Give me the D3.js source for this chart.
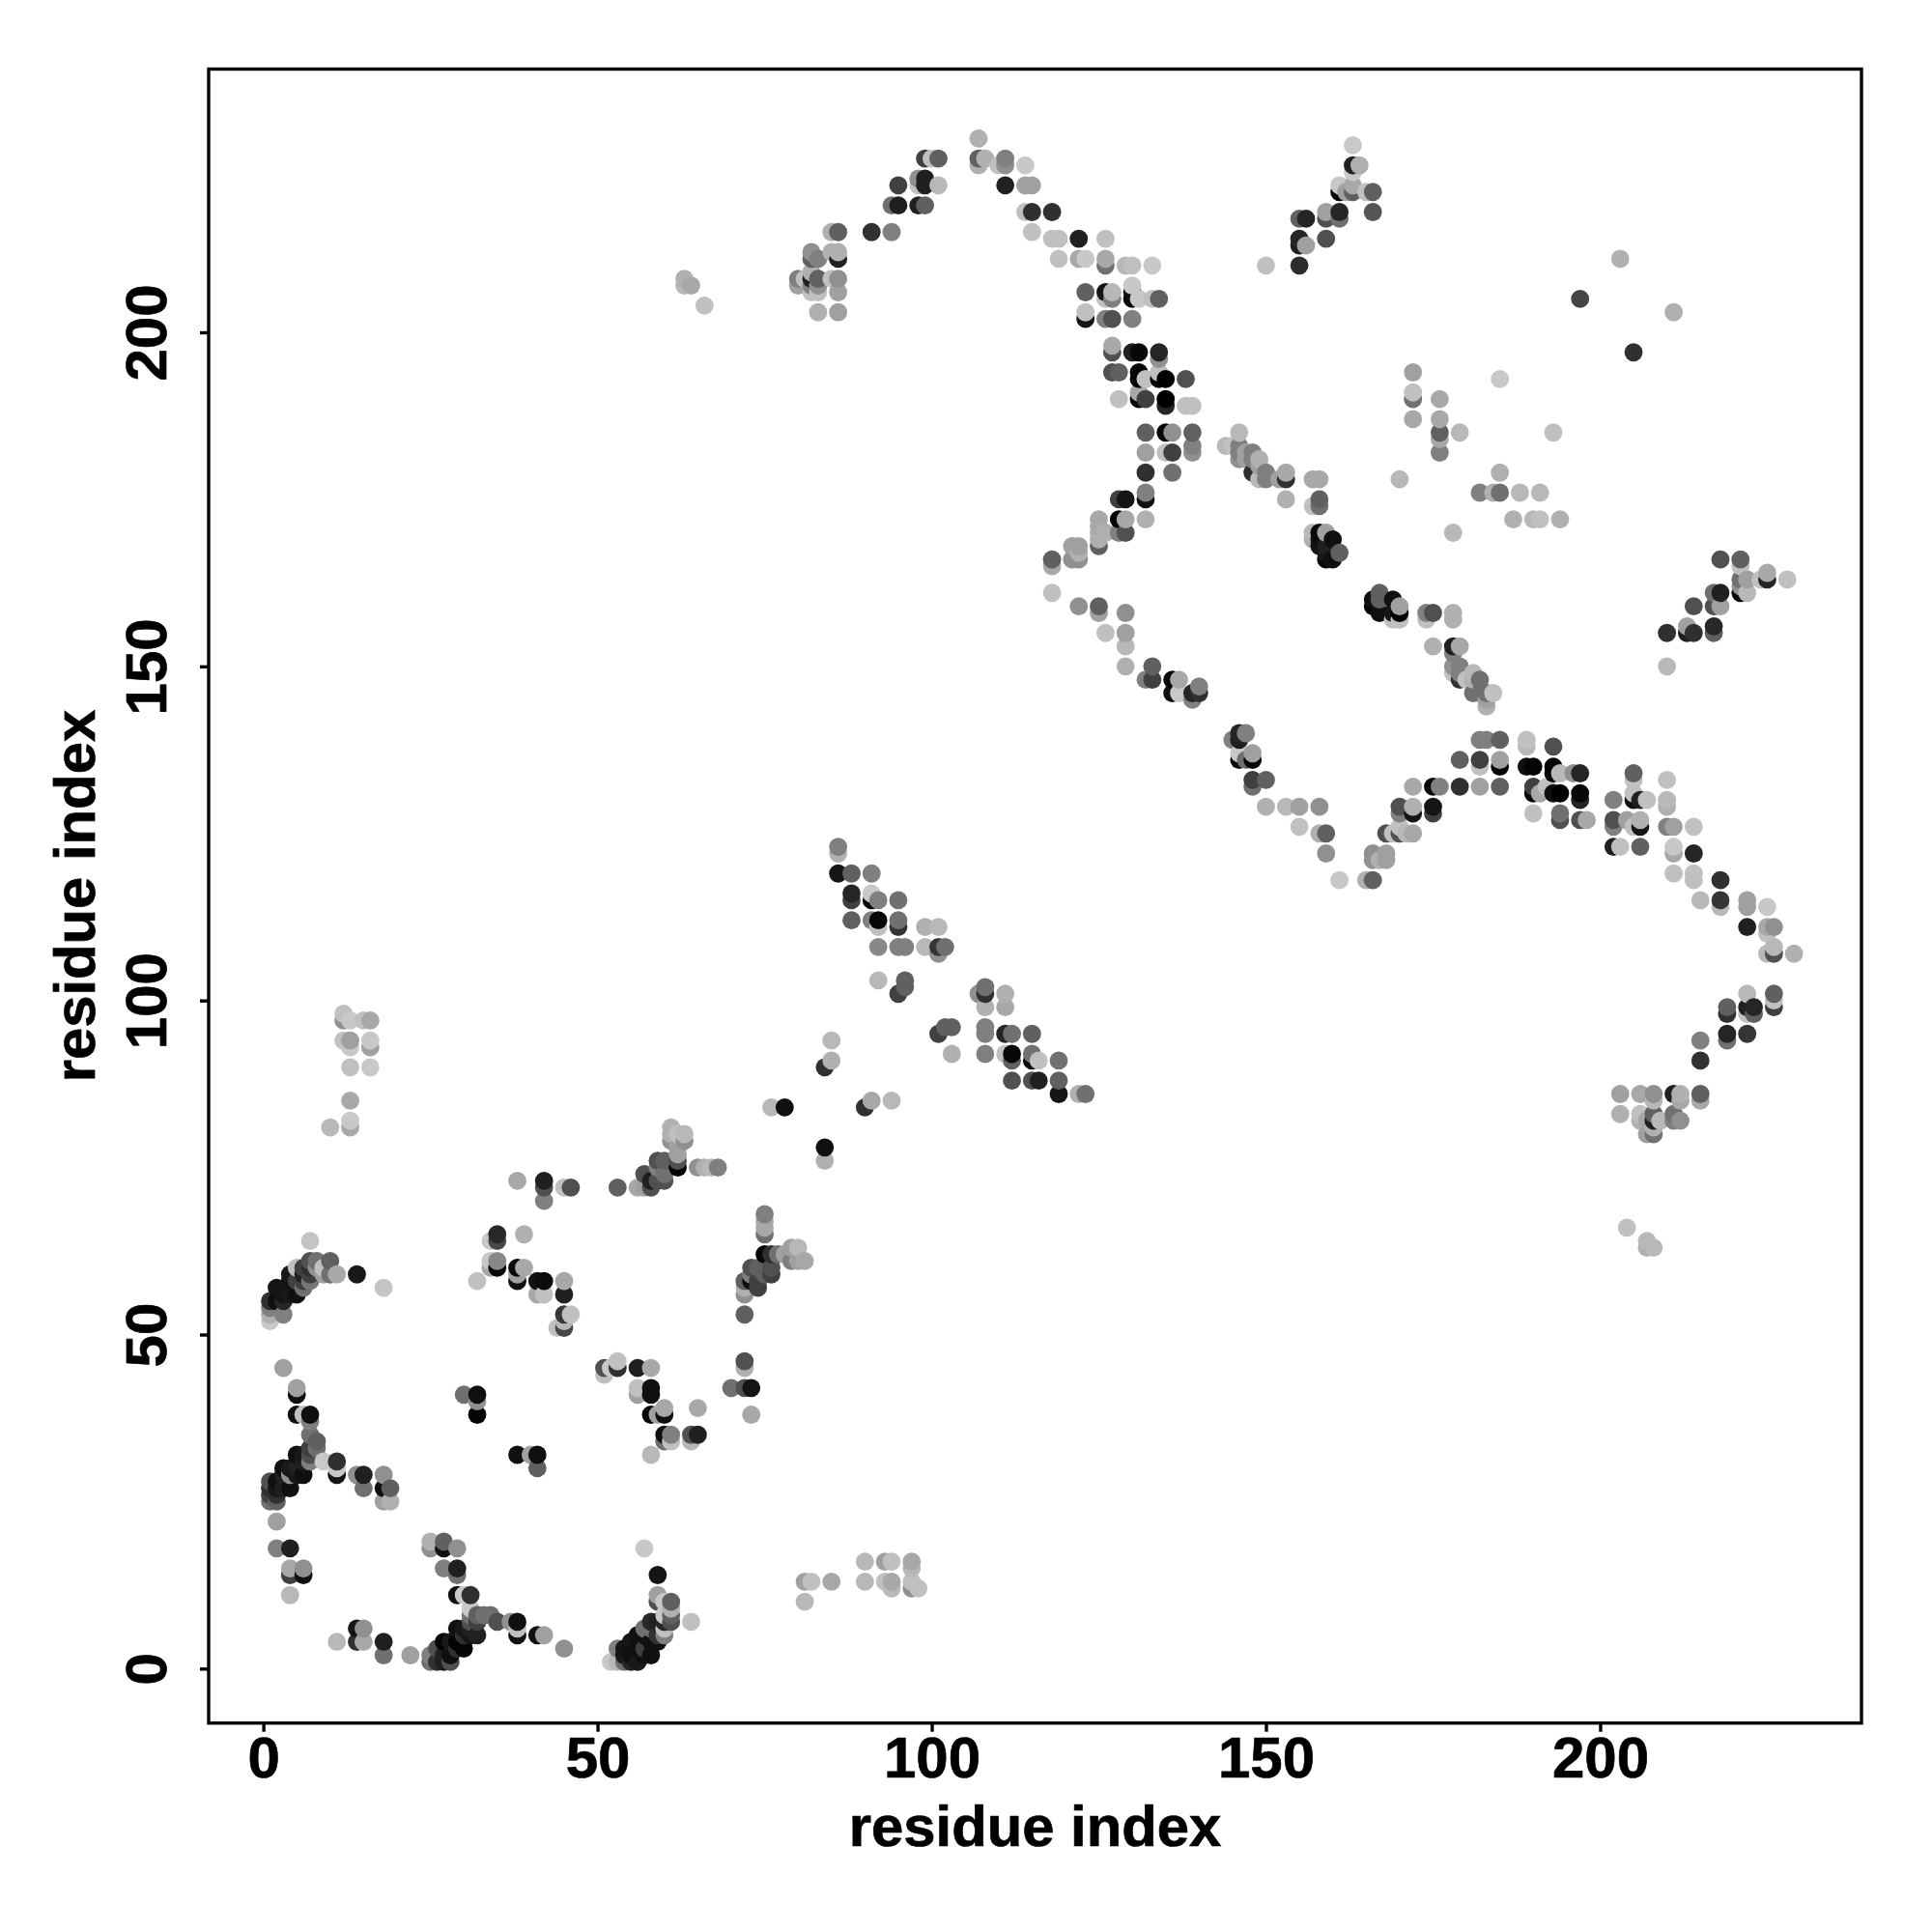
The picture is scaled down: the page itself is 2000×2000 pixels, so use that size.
<!DOCTYPE html>
<html>
<head>
<meta charset="utf-8">
<script src="https://cdn.jsdelivr.net/npm/d3@7"></script>
<style>html,body{margin:0;padding:0;background:#fff}svg{display:block}</style>
</head>
<body>
<div id="chart"></div>
<script>
// rows: [residue x, residue y, grey level]
const contactsN1 = [[1,52,0xc8],[1,53,0xb0],[1,54,0x80],[1,55,0x30],[2,55,0x10],[2,57,0x15],[3,53,0x80],[3,55,0x28],[3,56,0x15],[4,56,0x18],[4,58,0x15],[5,56,0x10],[5,58,0x40],[4,59,0x18],[5,60,0xc0],[6,57,0x70],[6,58,0x40],[6,59,0x20],[6,60,0x40],[7,58,0x78],[7,59,0x40],[7,60,0x30],[7,61,0x50],[7,64,0xc4],[8,60,0x90],[8,61,0x70],[9,59,0xa0],[9,60,0xc0],[10,59,0x70],[10,61,0x60],[11,59,0xa8],[14,59,0x18],[18,57,0xc4]];
const contactsN2 = [[34,64,0xc8],[35,64,0x48],[35,65,0x28],[39,65,0xb0],[34,60,0xa8],[34,61,0xc8],[35,60,0x08],[35,61,0x88],[32,58,0xc0],[38,60,0x08],[39,60,0xa8],[38,59,0xa0],[38,58,0x10],[41,58,0x12],[42,58,0x0c],[41,56,0xa8],[42,56,0xc0],[45,58,0xa8],[45,56,0x20],[45,53,0x38],[46,53,0xc0],[44,51,0xc0],[45,52,0xb8],[45,51,0x48]];
const contactsN3 = [[3,45,0xa0],[5,42,0xa0],[5,41,0x10],[5,38,0x10],[6,38,0xc0],[7,38,0x10],[7,37,0x80],[7,35,0x70],[8,34,0x60],[8,33,0x70],[7,33,0x40],[7,32,0x50],[7,31,0x80],[1,28,0x50],[1,27,0x30],[1,26,0x40],[1,25,0x70],[2,25,0x60],[2,26,0x30],[2,28,0x10],[2,27,0x18],[3,30,0x10],[3,29,0x20],[3,27,0x20],[4,27,0x10],[4,29,0x90],[4,30,0x18],[5,32,0x10],[5,30,0x20],[5,29,0x18],[6,31,0x20],[6,29,0x10],[6,32,0x18],[9,31,0xc8],[11,31,0x30],[11,30,0xc8],[11,29,0x15],[14,29,0x90],[15,29,0x20],[15,27,0x70],[18,29,0x90],[18,27,0x10],[19,27,0x60],[18,25,0xa0],[19,25,0xb0],[2,22,0xa0],[2,18,0x80],[4,18,0x20],[4,15,0xa8],[4,14,0x40],[6,15,0x90],[6,14,0x10],[4,11,0xb8]];
const contactsN4 = [[11,4,0xb8],[14,6,0x15],[15,6,0x90],[14,4,0x30],[15,4,0xa8],[18,4,0x20],[18,2,0x70],[22,2,0xa0],[25,2,0x80],[25,1,0x70],[26,1,0x30],[27,1,0x20],[28,1,0x50],[27,4,0x05],[26,3,0x50],[27,2,0x20],[28,2,0x10],[28,4,0x18],[29,6,0x10],[30,3,0x05],[29,4,0x05],[29,3,0x30],[30,5,0x30],[31,5,0x15],[32,5,0x20],[30,6,0x18],[31,6,0x20],[31,7,0x50],[32,7,0x40],[31,9,0xc8],[29,11,0x10],[30,11,0xc8],[31,11,0x30],[25,19,0xb0],[25,18,0x90],[27,19,0x60],[27,18,0x10],[29,18,0x90],[27,15,0x80],[29,15,0x20],[29,14,0x70],[31,8,0x70],[32,8,0x60],[33,8,0x70],[34,8,0x70],[35,7,0x50],[37,7,0x90],[38,7,0x10],[38,6,0xc0],[38,5,0x10],[41,5,0x10],[42,5,0xa0],[45,3,0x90]];
const contactsN5 = [[52,1,0xc8],[53,1,0xb8],[53,3,0x80],[54,3,0x15],[54,1,0x70],[54,2,0x18],[55,1,0x25],[55,2,0x10],[55,4,0x15],[56,1,0x18],[56,3,0x10],[56,5,0x10],[57,2,0x10],[57,3,0x40],[57,5,0x10],[57,6,0x70],[58,2,0x10],[58,4,0x10],[58,6,0x70],[58,7,0x28],[59,4,0x10],[59,5,0x30],[59,7,0x20],[60,5,0x80],[60,6,0xc0],[60,8,0xc8],[60,7,0x28],[60,10,0xc8],[61,7,0x50],[61,8,0x60],[61,9,0xb0],[61,10,0x60],[59,11,0xa0],[59,10,0x50],[59,14,0x15],[57,18,0xc8],[64,7,0xc0]];
const contactsN6 = [[30,41,0x70],[32,41,0x10],[32,40,0x90],[32,38,0x05],[38,32,0x10],[40,32,0xa0],[41,32,0x10],[41,30,0x60],[51,45,0x50],[51,44,0xc0],[52,45,0xc8],[53,46,0xc0],[53,45,0x30],[56,45,0x20],[58,45,0xa8],[56,42,0xc0],[56,41,0xa0],[58,42,0x10],[58,41,0x10],[58,38,0x05],[59,38,0xa0],[60,39,0xa8],[60,38,0x10],[60,35,0x10],[61,35,0x80],[61,34,0xc0],[60,34,0x70],[58,32,0xb8],[64,35,0x50],[64,34,0xb8],[65,35,0x20],[65,39,0xa8],[70,42,0x70],[72,42,0x50],[73,42,0x15],[72,46,0x50],[72,45,0xb0],[73,38,0xa8]];
const contactsM1 = [[12,98,0xc0],[12,97,0x90],[13,97,0xc8],[15,97,0xc0],[16,97,0xa8],[12,94,0xc0],[13,94,0xa0],[13,93,0xc8],[16,94,0xc8],[16,93,0xa0],[13,90,0xc0],[16,90,0xc8],[13,85,0xa8],[10,81,0xb8],[13,82,0xc8],[13,81,0xa8]];
const contactsM2 = [[38,73,0xa8],[42,73,0x20],[42,72,0x50],[42,70,0x80],[45,72,0xc0],[46,72,0x50],[53,72,0x60],[56,72,0xa8],[57,72,0xa0],[58,72,0x50],[57,74,0x50],[58,73,0x20],[59,73,0x50],[59,76,0x50],[60,76,0x60],[60,73,0x50],[59,75,0x80],[60,74,0x70],[62,75,0x05],[62,76,0x50],[62,77,0xa0],[62,78,0xa0],[61,81,0xb0],[61,79,0x90],[62,80,0xc0],[63,80,0xb8],[63,79,0x90],[61,80,0xb0],[65,75,0x90],[66,75,0xb0],[67,75,0xb8],[68,75,0x80]];
const contactsM3 = [[76,84,0xb8],[78,84,0x10],[85,94,0xb8],[85,91,0xb0],[84,90,0x30],[90,84,0x30],[91,85,0xa8],[94,85,0xb8],[84,78,0x10],[84,76,0xb0]];
const contactsM4 = [[72,53,0x60],[72,56,0x90],[72,57,0xb0],[72,58,0x60],[73,58,0x10],[74,57,0x40],[74,58,0x40],[73,60,0x50],[74,60,0x60],[73,59,0x80],[75,59,0x60],[76,59,0x40],[76,60,0x50],[75,62,0x05],[76,62,0x30],[77,62,0x70],[78,62,0xa0],[79,63,0xa0],[80,63,0xb8],[79,61,0x80],[80,61,0xa0],[81,61,0xa8],[75,68,0x80],[75,67,0xa8],[75,66,0xa8],[75,65,0x70]];
const contactsM5 = [[86,123,0x80],[86,122,0xb0],[86,119,0x15],[88,119,0x60],[91,119,0x80],[88,116,0x25],[88,115,0x40],[91,116,0xc8],[91,115,0x05],[92,115,0x80],[95,115,0x70],[88,112,0x60],[91,112,0x80],[92,112,0x08],[92,111,0xc0],[95,112,0x70],[95,111,0x35],[99,111,0xb0],[101,111,0xb8],[92,108,0x88],[95,108,0x80],[96,108,0x80],[99,108,0xb8],[101,108,0x35],[102,108,0x70],[101,107,0x90],[92,103,0xb8],[96,103,0x60],[96,102,0x60],[95,101,0x40]];
const contactsM6 = [[107,101,0x90],[108,102,0x70],[108,101,0x30],[111,101,0xb0],[108,99,0xb0],[111,99,0xa8],[108,96,0x80],[108,95,0x80],[111,95,0x25],[112,95,0x70],[115,95,0x60],[101,95,0x40],[102,96,0x60],[103,96,0x60],[103,92,0xb0],[108,92,0x80],[111,92,0xc0],[112,92,0x08],[112,91,0x60],[115,92,0x70],[115,91,0x08],[116,91,0xc0],[119,91,0x70],[112,88,0x50],[115,88,0x50],[116,88,0x20],[119,88,0x60],[119,86,0x15],[122,86,0xb0],[123,86,0x70]];
const contactsBottom = [[81,13,0xa0],[82,13,0xc0],[85,13,0xa8],[81,10,0xb8],[90,16,0xb8],[93,16,0xa0],[94,16,0xc0],[97,16,0xa8],[97,15,0xb8],[90,13,0xb8],[93,13,0xc0],[94,13,0xa8],[94,12,0xb8],[97,13,0xc0],[97,12,0x90],[98,12,0xc0]];
const contactsT1 = [[63,208,0xb0],[63,207,0xb8],[64,207,0xa8],[66,204,0xc0],[107,229,0xb0],[99,226,0x40],[100,226,0xc0],[101,226,0x60],[107,226,0x60],[107,225,0xb0],[108,226,0xb0],[110,225,0xc0],[111,226,0x80],[111,225,0x90],[114,225,0xc8],[95,222,0x40],[98,223,0x90],[99,223,0x20],[98,222,0xc0],[99,222,0x20],[101,222,0xb8],[111,222,0x20],[114,222,0xa0],[115,222,0xa0],[94,219,0x70],[95,219,0x20],[98,219,0x20],[99,219,0x60],[114,218,0xc0],[115,218,0x30],[118,218,0x30],[115,215,0xc0],[118,214,0xc0],[119,214,0xc0],[122,214,0x20],[126,214,0xc0],[85,215,0xb0],[86,215,0x60],[91,215,0x30],[94,215,0x80]];
const contactsT2 = [[82,212,0x90],[82,211,0x60],[83,211,0x80],[85,212,0xb0],[86,212,0xb0],[86,211,0x20],[80,208,0x80],[80,207,0xa0],[81,208,0xc0],[82,209,0xb0],[82,208,0x20],[83,208,0x60],[85,208,0xc0],[86,208,0x90],[82,206,0xc0],[83,206,0xc0],[83,207,0x90],[82,207,0x80],[86,206,0xa0],[83,203,0xb0],[86,203,0xa0]];
const contactsT3 = [[119,211,0xc0],[122,211,0xa8],[123,211,0xc8],[126,211,0xa8],[126,210,0x70],[129,210,0xb8],[130,210,0xc0],[133,210,0xc8],[123,206,0x60],[126,206,0x15],[127,206,0xb8],[127,205,0x80],[126,205,0xc0],[130,207,0xc8],[130,206,0x10],[131,205,0xc8],[130,205,0x05],[133,205,0xc0],[134,205,0x60],[123,203,0xc0],[123,202,0x15],[126,202,0x80],[127,202,0x50],[130,202,0x80],[127,198,0xa8],[127,197,0x50],[130,197,0x20],[131,197,0x08],[134,197,0x25],[134,196,0x90],[127,194,0x50],[128,194,0x60],[131,194,0x05],[131,193,0x05],[132,193,0xc0],[134,194,0xc0],[134,193,0x05],[135,193,0x00],[138,193,0x50],[128,190,0xc0],[131,191,0xa8],[131,190,0x05],[132,190,0x40],[135,190,0x00],[135,189,0x25],[138,189,0xc0],[139,189,0xc0]];
const contactsT4 = [[132,185,0x60],[135,185,0x05],[136,185,0x90],[139,185,0x60],[139,183,0x80],[139,182,0x90],[132,182,0xa0],[135,182,0xc0],[136,182,0x40],[132,179,0x30],[136,179,0x70],[132,176,0x80],[132,175,0x10],[128,175,0x40],[129,175,0x15],[128,172,0x05],[129,172,0xa8],[132,172,0xb0],[129,170,0x50],[128,170,0x80],[125,172,0xa8],[125,171,0xa8],[125,170,0xb0],[125,169,0xb0],[125,168,0x60],[126,170,0xb0],[121,168,0xa0],[122,168,0xa0],[121,166,0x90],[122,166,0x90],[122,167,0xb0],[118,166,0x60],[118,165,0xa8],[118,161,0xc0]];
const contactsD1 = [[144,183,0xb8],[145,183,0xc0],[146,185,0xb8],[146,183,0x80],[146,182,0x80],[146,181,0x90],[147,182,0xa0],[148,182,0x80],[147,181,0xa0],[148,181,0x80],[148,179,0x30],[149,181,0xb0],[149,180,0xa0],[149,178,0xb8],[150,179,0x80],[150,178,0x80],[152,178,0xa0],[153,179,0xa8],[153,178,0x30],[157,178,0xa8],[158,178,0xa8],[153,175,0xb0],[157,174,0xc0],[158,175,0x60],[158,174,0x70],[157,170,0xb8],[157,169,0xb0],[158,170,0x08],[158,169,0x10],[159,170,0xa0],[160,169,0x10],[158,168,0x15],[159,168,0x20],[159,167,0x18],[159,166,0x08],[160,166,0x10],[161,167,0x60],[170,178,0xb8]];
const contactsD2 = [[172,194,0xa0],[172,191,0xc0],[172,190,0x70],[172,187,0xa8],[176,190,0xa8],[176,187,0xa8],[176,185,0x60],[176,184,0xa8],[176,182,0x80],[179,185,0xb8],[178,170,0xb8],[185,193,0xc8],[185,179,0xb0],[182,176,0x80],[184,176,0xb0],[185,176,0x70],[187,172,0xb0],[188,176,0xb8],[191,176,0xb8],[190,172,0xb8],[191,172,0xc0],[193,185,0xc0],[194,172,0xb0],[150,210,0xc0],[203,211,0xb0],[197,205,0x45],[205,197,0x30],[211,203,0xb0],[204,66,0xc0],[207,64,0xb8],[207,63,0xb0],[208,63,0xb8]];
const contactsD3 = [[122,159,0x90],[125,159,0x60],[125,158,0xa0],[129,158,0x90],[126,155,0xc0],[129,155,0xa0],[129,153,0xb8],[129,150,0xb0],[133,150,0x60],[132,148,0x80],[133,148,0x40],[136,148,0x08],[137,148,0xa8],[136,146,0x10],[137,146,0xc8],[139,145,0x80],[139,146,0x25],[140,146,0x30],[140,147,0x80],[166,159,0x08],[166,160,0x10],[167,161,0x60],[167,160,0x60],[167,158,0x10],[169,160,0x10],[169,158,0x15],[170,159,0xa0],[170,158,0x00],[169,157,0xc0],[170,157,0xc0],[174,158,0x80],[175,158,0x50],[174,157,0xc0],[178,158,0xb0],[178,157,0xb0],[175,153,0xb0],[178,153,0x20],[179,153,0xa8],[178,152,0x80],[178,150,0x90],[179,150,0x80],[178,149,0xc0],[179,149,0x80],[179,148,0x30],[181,149,0xb8],[180,148,0xc0],[182,148,0x70],[181,148,0xb0],[181,146,0x70],[182,146,0x70],[183,146,0x70],[183,144,0xb0],[183,145,0xa0],[184,146,0xc0]];
const contactsD4 = [[146,140,0x25],[145,139,0x80],[146,139,0x20],[147,140,0x80],[146,137,0xc8],[148,137,0xa0],[146,136,0x08],[147,136,0x70],[148,136,0x08],[148,133,0x40],[150,133,0x60],[148,132,0x70],[150,129,0xb0],[153,129,0xb8],[155,129,0xa0],[158,129,0x90],[155,126,0xc0],[158,125,0xb0],[159,125,0x60],[159,122,0x90],[161,118,0xc8],[165,118,0xb0],[166,118,0x60],[166,122,0x90],[166,121,0x90],[167,121,0xb0],[168,122,0xa0],[168,121,0xa0],[168,125,0x50],[169,125,0xc0],[170,125,0x50],[170,126,0xc0],[171,125,0xb8],[172,125,0xa8],[170,129,0x50],[170,128,0x80],[172,129,0xb0],[172,128,0x15],[175,129,0x15],[175,128,0x40],[172,132,0xa8],[175,132,0x08],[176,132,0x80],[179,132,0x30],[182,132,0xa0],[185,132,0x60],[179,136,0x60],[182,136,0x40],[182,135,0xc0],[185,135,0x05],[185,136,0xa0],[182,139,0x80],[183,139,0x80],[185,139,0x60]];
const contactsR1 = [[189,139,0xc0],[189,138,0xb8],[193,138,0x50],[189,135,0x10],[190,135,0x05],[193,135,0x00],[193,134,0x05],[194,134,0xb8],[196,134,0x90],[197,134,0x25],[190,132,0x40],[190,131,0x08],[191,131,0xa8],[192,132,0xc0],[193,131,0x10],[194,131,0x00],[197,131,0x08],[197,130,0x25],[190,128,0xc0],[194,128,0x70],[194,127,0x50],[197,127,0x50],[198,127,0xa8]];
const contactsR2 = [[202,130,0x80],[202,127,0x50],[202,126,0x80],[202,123,0x20],[203,123,0xc0],[206,123,0x60],[205,134,0x60],[205,133,0xc0],[205,131,0xc0],[205,130,0x10],[206,130,0x20],[207,130,0xc0],[204,127,0xa0],[206,127,0xb0],[206,126,0x15],[205,126,0xc0],[210,133,0xc0],[210,130,0xb8],[210,129,0xb0],[210,126,0x80],[211,126,0xa0],[214,126,0xc0],[211,123,0xc8],[211,122,0xa8],[214,122,0x25],[211,119,0xc0],[214,119,0xc0],[214,118,0xc0],[215,115,0xb8],[218,118,0x30],[218,115,0x35],[218,114,0xb8],[222,115,0xa0],[222,114,0xa0],[222,111,0x20],[225,114,0xc8],[225,111,0xa8],[226,111,0x90],[225,110,0xc0],[226,108,0xb8],[225,107,0xb8],[226,107,0x50],[229,107,0xb0]];
const contactsR3 = [[222,101,0xb8],[226,101,0x60],[226,100,0xc0],[226,99,0x40],[219,99,0x60],[219,98,0x30],[222,99,0x20],[223,99,0x25],[223,98,0x60],[222,98,0xc0],[219,95,0x25],[219,94,0x70],[222,95,0x35],[215,94,0x80],[215,91,0x30],[203,86,0xa0],[206,86,0xa8],[208,86,0x90],[208,85,0xb8],[211,86,0x20],[212,86,0xb0],[212,85,0xa8],[215,86,0x60],[215,85,0xa8],[203,83,0xb0],[206,83,0xc0],[206,82,0xb0],[207,82,0xa8],[208,83,0x60],[208,82,0x20],[209,82,0xb8],[211,83,0x70],[211,82,0x80],[212,82,0x90],[207,80,0xa0],[208,80,0x70],[208,81,0xb0]];
const contactsU1 = [[163,228,0xc8],[163,225,0x20],[164,225,0xb0],[163,224,0xc8],[161,222,0xc8],[163,222,0xa8],[161,221,0x05],[162,221,0xa0],[163,221,0x60],[165,221,0xc0],[166,221,0x60],[166,218,0x55],[161,218,0x25],[161,217,0x70],[159,218,0xa0],[159,217,0x50],[155,217,0x60],[156,217,0x25],[159,214,0x50],[155,214,0x25],[155,213,0x20],[156,213,0xa0],[155,210,0x2c]];
const contactsU2 = [[218,166,0x50],[221,166,0x60],[221,165,0xc0],[221,163,0x70],[222,163,0xa0],[224,163,0xc0],[225,164,0xa8],[225,163,0x25],[228,163,0xc0],[221,162,0x90],[221,161,0x05],[222,161,0xb8],[217,161,0x70],[218,161,0x20],[217,159,0x50],[218,159,0xa0],[214,159,0x50],[213,156,0xa0],[217,156,0x28],[217,155,0x60],[210,155,0x30],[213,155,0x20],[214,155,0x30],[210,150,0xb8]];

const allContacts = [contactsN1,contactsN2,contactsN3,contactsN4,contactsN5,contactsN6,contactsM1,contactsM2,contactsM3,contactsM4,contactsM5,contactsM6,contactsBottom,contactsT1,contactsT2,contactsT3,contactsT4,contactsD1,contactsD2,contactsD3,contactsD4,contactsR1,contactsR2,contactsR3,contactsU1,contactsU2].flat()
  .sort((a,b)=>d3.ascending(a[0],b[0])||d3.ascending(a[1],b[1]));

const tickValues = [0,50,100,150,200];
const axisTitle = "residue index";
const font = '"Liberation Sans", Arial, sans-serif';

const W=2000,H=2000,L=216,R=1927,T=71.5,B=1783.7;
const x = d3.scaleLinear().domain([-8.18,239.1]).range([L,R]);
const y = d3.scaleLinear().domain([-8.15,239.4]).range([B,T]);
const svg = d3.select("#chart").append("svg").attr("width",W).attr("height",H).attr("viewBox",`0 0 ${W} ${H}`);
svg.append("rect").attr("width",W).attr("height",H).attr("fill","#fff");

svg.append("g").selectAll("circle").data(allContacts).join("circle")
  .attr("cx",d=>x(d[0])).attr("cy",d=>y(d[1])).attr("r",9.4)
  .attr("fill",d=>d3.rgb(d[2],d[2],d[2]));

svg.append("rect").attr("x",L).attr("y",T).attr("width",R-L).attr("height",B-T)
  .attr("fill","none").attr("stroke","#000").attr("stroke-width",3.4);

const gx = svg.append("g").attr("transform",`translate(0,${B})`)
  .call(d3.axisBottom(x).tickValues(tickValues).tickSize(9).tickFormat(d3.format("d")));
gx.select(".domain").remove();
gx.selectAll("line").attr("stroke","#000").attr("stroke-width",3.4);
gx.selectAll("text").attr("y",56.5).attr("dy",0).attr("fill","#000").attr("stroke","#000").attr("stroke-width",0.7)
  .attr("font-family",font).attr("font-weight","bold").attr("font-size",60);

const gy = svg.append("g").attr("transform",`translate(${L},0)`)
  .call(d3.axisLeft(y).tickValues(tickValues).tickSize(9).tickFormat(d3.format("d")));
gy.select(".domain").remove();
gy.selectAll("line").attr("stroke","#000").attr("stroke-width",3.4);
gy.selectAll("text").attr("x",null).attr("dy",0).attr("text-anchor","middle")
  .attr("transform","translate(-44.5,0) rotate(-90)").attr("y",0).attr("fill","#000").attr("stroke","#000").attr("stroke-width",0.7)
  .attr("font-family",font).attr("font-weight","bold").attr("font-size",60);

svg.append("text").attr("x",(L+R)/2).attr("y",1911).attr("text-anchor","middle").attr("stroke","#000").attr("stroke-width",0.7)
  .attr("font-family",font).attr("font-weight","bold").attr("font-size",59.8).text(axisTitle);
svg.append("text").attr("transform",`translate(98,${(T+B)/2}) rotate(-90)`).attr("text-anchor","middle").attr("stroke","#000").attr("stroke-width",0.7)
  .attr("font-family",font).attr("font-weight","bold").attr("font-size",59.8).text(axisTitle);
</script>
</body>
</html>
